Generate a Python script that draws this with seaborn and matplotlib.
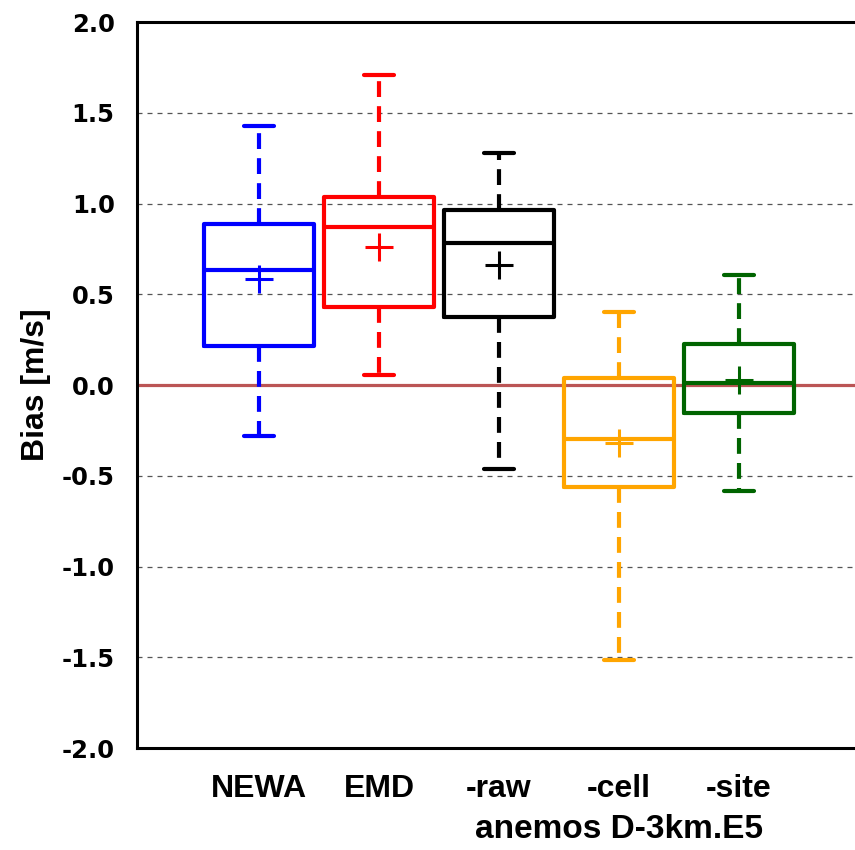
import matplotlib
matplotlib.use("Agg")
import matplotlib.pyplot as plt
import matplotlib.transforms as mtransforms
import seaborn as sns

sns.set_style("white")
plt.rcParams["text.color"] = "black"
plt.rcParams["axes.labelcolor"] = "black"

categories = ["NEWA", "EMD", "-raw", "-cell", "-site"]
whisker_low = [-0.28, 0.055, -0.464, -1.515, -0.582]
q1 = [0.217, 0.43, 0.376, -0.56, -0.152]
median = [0.632, 0.872, 0.78, -0.30, 0.013]
mean = [0.586, 0.762, 0.661, -0.318, 0.028]
q3 = [0.887, 1.037, 0.964, 0.037, 0.226]
whisker_high = [1.43, 1.71, 1.277, 0.40, 0.606]
colors = ["#0000ff", "#ff0000", "#000000", "#ffa500", "#006400"]
yticks = [-2.0, -1.5, -1.0, -0.5, 0.0, 0.5, 1.0, 1.5, 2.0]
xlabel_text = "anemos D-3km.E5"
ylabel_text = "Bias [m/s]"

fig = plt.figure(figsize=(8.55, 8.5), dpi=100)
ax = fig.add_axes([0.1602, 0.12, 0.8398, 0.854])

# grid
for yv in yticks:
    if abs(yv) < 1e-9 or abs(abs(yv) - 2.0) < 1e-9:
        continue
    ax.axhline(yv, color="#555555", lw=0.9, ls=(0, (4, 4)), zorder=0)

ax.axhline(0.0, color="#bb5555", lw=2.3, zorder=1)

positions = list(range(1, len(categories) + 1))
for i, c in enumerate(categories):
    stats = [dict(med=median[i], q1=q1[i], q3=q3[i], whislo=whisker_low[i],
                  whishi=whisker_high[i], mean=mean[i], fliers=[], label=c)]
    col = colors[i]
    ax.bxp(stats, positions=[positions[i]], widths=0.917, showmeans=True,
           showfliers=False, manage_ticks=False,
           boxprops=dict(color=col, lw=3.0),
           medianprops=dict(color=col, lw=3.0),
           whiskerprops=dict(color=col, lw=3.0, ls=(0, (3.8, 2.2))),
           capprops=dict(color=col, lw=3.0),
           meanprops=dict(marker="+", markersize=20, markeredgewidth=2.2,
                          markeredgecolor=col, color=col),
           capwidths=0.25, zorder=3)

ax.set_xlim(-0.02, 5.97)
ax.set_ylim(-2.0, 2.0)
ax.set_yticks(yticks)
ax.set_yticklabels([f"{v:.1f}" for v in yticks], fontfamily="DejaVu Sans",
                   fontweight="bold", fontsize=17.5, color="black")
ax.set_xticks(positions)
ax.set_xticklabels(categories, fontfamily="Liberation Sans", fontweight="bold",
                   fontsize=23, color="black")
ax.tick_params(axis="y", direction="in", length=8, width=1.2, pad=16, colors="black")
ax.tick_params(axis="x", direction="in", length=18, width=1.2, pad=19, colors="black")

for s in ["left", "top", "bottom"]:
    ax.spines[s].set_visible(True)
    ax.spines[s].set_color("black")
    ax.spines[s].set_linewidth(2.2)
ax.spines["right"].set_visible(False)

ax.set_ylabel(ylabel_text, fontfamily="Liberation Sans", fontweight="bold",
              fontsize=23, labelpad=8, color="black")

trans = mtransforms.blended_transform_factory(ax.transData, fig.transFigure)
ax.text(4.0, 0.024, xlabel_text, transform=trans, ha="center", va="center",
        fontfamily="Liberation Sans", fontweight="bold", fontsize=24, color="black")

fig.savefig("out.png", dpi=100)
